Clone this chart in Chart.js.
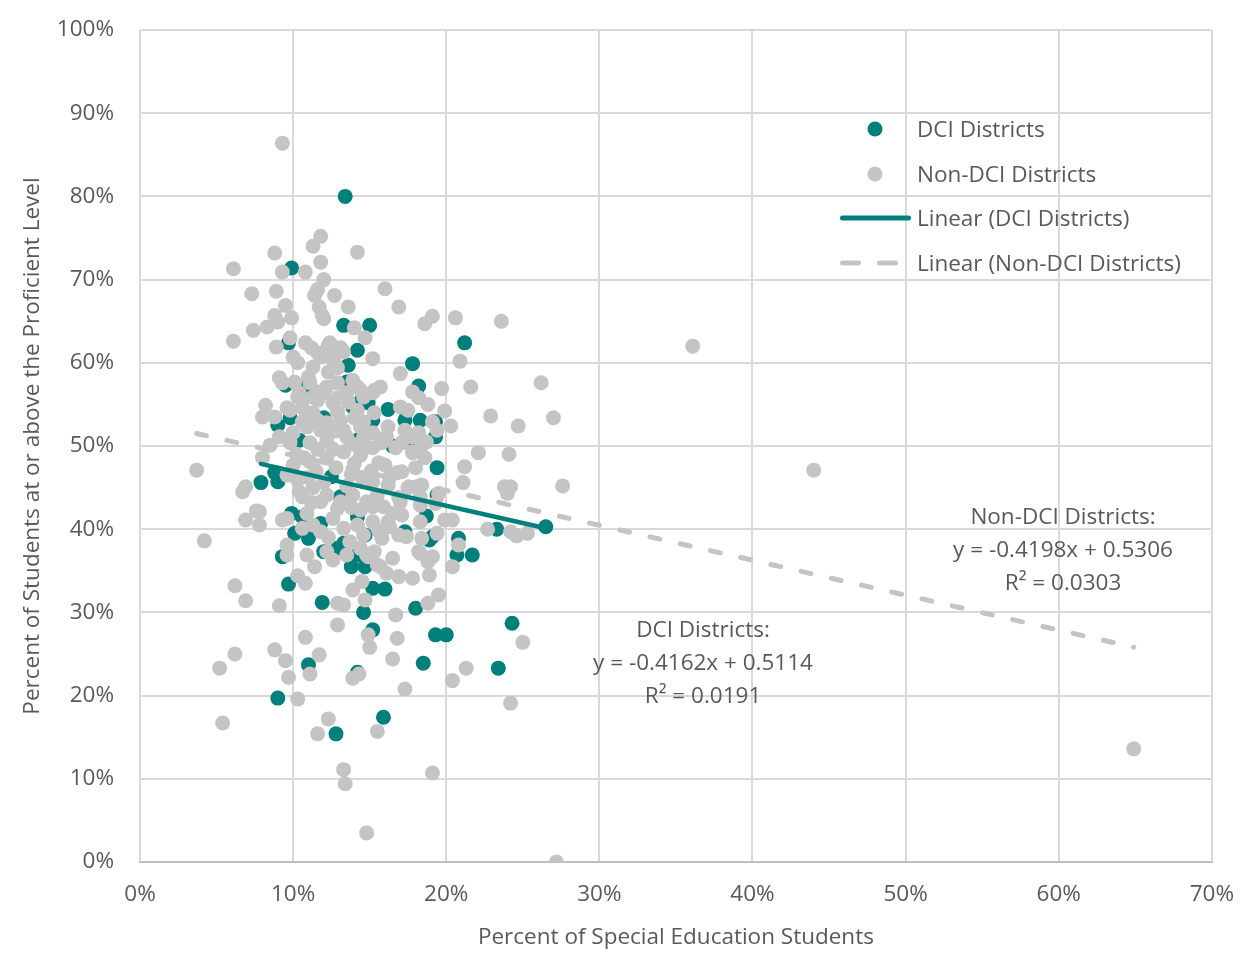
<!DOCTYPE html>
<html>
<head>
<meta charset="utf-8">
<script src="https://cdn.jsdelivr.net/npm/chart.js@4.4.1/dist/chart.umd.min.js"></script>
<style>
html,body{margin:0;padding:0;background:#ffffff;}
#wrap{position:relative;width:1253px;height:962px;overflow:hidden;}
#c{position:absolute;left:0;top:0;}
.t{position:absolute;font-family:'Open Sans','Noto Sans',sans-serif;font-size:22.5px;color:#595959;white-space:nowrap;line-height:1;transform:translateY(-50%);}
.ctr{transform:translate(-50%,-50%);}
.dot{position:absolute;width:15px;height:15px;border-radius:50%;transform:translate(-50%,-50%);}
.bar{position:absolute;height:5px;border-radius:3px;transform:translateY(-50%);}
</style>
</head>
<body>
<div id="wrap">
<canvas id="c" width="1253" height="962"></canvas>
<div class="dot" style="left:875px;top:129px;background:#007F7B"></div>
<div class="t" style="left:917px;top:129px">DCI Districts</div>
<div class="dot" style="left:875px;top:174px;background:#C4C4C4"></div>
<div class="t" style="left:917px;top:174px">Non-DCI Districts</div>
<div class="bar" style="left:840px;top:218px;width:71px;background:#007F7B"></div>
<div class="t" style="left:917px;top:218px">Linear (DCI Districts)</div>
<div class="bar" style="left:840px;top:263px;width:21px;background:#C4C4C4"></div>
<div class="bar" style="left:877px;top:263px;width:21px;background:#C4C4C4"></div>
<div class="t" style="left:917px;top:263px">Linear (Non-DCI Districts)</div>
<div class="t ctr" style="left:1063px;top:516px">Non-DCI Districts:</div>
<div class="t ctr" style="left:1063px;top:549px">y = -0.4198x + 0.5306</div>
<div class="t ctr" style="left:1063px;top:582px">R² = 0.0303</div>
<div class="t ctr" style="left:703px;top:629px">DCI Districts:</div>
<div class="t ctr" style="left:703px;top:662px">y = -0.4162x + 0.5114</div>
<div class="t ctr" style="left:703px;top:695px">R² = 0.0191</div>
</div>
<script>
// Percent of Special Education Students (x, %) and Percent at/above Proficient (y, %)
const dciPoints = [
[13.4,80.0],[9.9,71.4],[13.3,64.5],[15.0,64.5],[9.7,62.4],[14.2,61.5],[13.6,59.7],[10.9,57.2],[9.5,57.3],[13.5,57.7],
[14.4,55.3],[13.9,54.7],[14.9,55.2],[9.8,53.4],[9.0,52.5],[10.4,50.7],[12.0,53.4],[14.2,50.7],[15.2,53.1],[21.2,62.4],
[17.8,59.9],[18.2,57.2],[16.2,54.4],[17.3,53.1],[18.3,53.1],[19.3,51.1],[18.0,50.1],[17.4,54.1],[19.3,52.9],[7.9,45.6],
[9.0,45.7],[12.5,46.3],[13.1,43.9],[9.9,41.9],[10.6,41.5],[11.8,40.7],[10.1,39.5],[11.0,38.9],[9.3,36.7],[12.0,37.3],
[13.3,38.3],[14.2,36.9],[8.8,46.8],[13.8,35.5],[14.7,35.5],[15.2,32.9],[11.9,31.2],[14.6,30.0],[12.9,37.7],[14.2,41.5],
[9.7,33.4],[18.3,49.9],[19.4,47.4],[19.4,44.1],[18.7,41.6],[17.3,39.7],[19.1,39.1],[20.8,38.9],[20.7,36.9],[21.7,36.9],
[14.7,39.3],[16.5,50.0],[18.9,38.7],[23.3,40.0],[26.5,40.3],[16.0,32.8],[18.0,30.5],[24.3,28.7],[19.3,27.3],[20.0,27.3],
[18.5,23.9],[23.4,23.3],[15.9,17.4],[12.8,15.4],[11.0,23.7],[14.2,22.8],[9.0,19.7],[15.2,27.9]
];
const nonDciPoints = [
[3.7,47.1],[4.2,38.6],[5.2,23.3],[5.4,16.7],[6.1,71.3],[6.1,62.6],[6.2,33.2],[6.2,25.0],[6.9,45.1],[6.7,44.5],
[6.9,41.1],[6.9,31.4],[7.3,68.3],[7.4,63.9],[7.6,42.2],[7.8,40.5],[8.0,48.6],[8.3,64.3],[8.2,54.9],[8.8,73.2],
[8.9,68.6],[8.8,25.5],[9.1,30.8],[9.3,86.4],[9.5,24.2],[9.7,22.2],[10.3,19.6],[10.8,27.0],[10.8,33.5],[10.3,34.4],
[7.8,42.1],[8.0,53.5],[8.8,53.5],
[11.8,75.2],[11.3,74.0],[14.2,73.3],[11.8,72.1],[9.3,70.9],[10.8,70.9],[12.0,70.0],[11.6,68.8],[11.4,68.1],[12.7,68.1],
[9.5,66.9],[11.7,66.7],[13.6,66.7],[11.9,65.7],[12.0,65.3],[8.8,65.7],[9.9,65.4],[9.0,64.9],[14.0,64.2],[14.7,63.0],
[9.8,63.0],[8.9,61.9],[10.8,62.4],[11.2,61.8],[11.6,61.2],[12.3,62.1],[13.3,61.3],[15.2,60.5],[10.0,60.7],[10.3,60.0],
[11.3,59.5],[12.5,60.6],[12.7,60.0],[12.3,58.9],[9.1,58.2],[9.3,57.6],[10.1,57.7],[11.0,58.3],[11.1,57.6],[12.9,57.6],
[13.9,57.9],[14.2,57.1],[15.2,56.4],[10.4,56.4],[10.6,55.5],[11.3,55.9],[12.0,56.4],[12.6,55.2],[13.5,56.4],[9.6,54.6],
[10.6,52.9],[11.6,53.1],[12.2,52.8],[12.9,54.1],[13.1,53.1],[14.0,53.4],[14.6,52.9],[11.8,60.7],[12.4,62.4],[13.1,61.8],
[12.9,59.4],[10.3,55.9],[11.6,56.5],[12.2,57.1],[12.9,55.8],[14.4,56.7],[13.6,55.3],[14.2,54.3],[14.6,55.9],[9.8,54.3],
[10.6,54.6],[11.6,55.5],[11.3,54.0],[12.6,52.3],[13.3,51.9],[14.4,52.3],[9.1,51.1],[10.0,51.6],[10.9,52.3],[11.8,51.9],
[8.5,50.1],[9.8,50.4],[11.1,50.4],[12.2,50.7],[13.5,51.1],[14.6,51.1],[14.8,49.9],
[16.0,68.9],[16.9,66.7],[19.1,65.6],[18.6,64.7],[20.6,65.4],[23.6,65.0],[20.9,60.2],[17.0,58.7],[15.7,57.1],[15.3,56.7],
[19.7,56.9],[21.6,57.1],[26.2,57.6],[17.8,56.5],[18.2,55.8],[18.8,55.0],[17.0,54.7],[17.5,54.3],[19.9,54.2],[15.3,54.0],
[22.9,53.6],[19.1,52.9],[20.3,52.4],[24.7,52.4],[27.0,53.4],[16.2,52.3],[17.3,51.9],[19.4,51.9],[18.2,51.6],[15.2,51.6],
[15.8,50.4],[17.1,50.4],[18.4,50.1],
[10.0,47.7],[11.1,48.1],[12.2,48.6],[13.3,49.3],[14.4,48.9],[9.6,46.5],[10.4,44.5],[11.3,45.0],[12.2,44.1],[13.1,43.3],
[13.9,44.1],[14.8,43.3],[9.6,41.3],[10.9,41.9],[11.3,40.5],[11.8,39.7],[10.6,40.1],[12.6,41.3],[13.3,40.1],[14.2,40.5],
[14.6,39.3],[13.7,38.5],[14.4,37.7],[9.6,38.1],[9.6,36.9],[10.9,36.9],[12.2,37.3],[13.5,36.9],[14.8,36.9],[10.3,45.9],
[10.6,43.9],[11.8,43.3],[12.9,42.5],[14.4,42.3],[15.2,42.7],[9.3,41.1],[11.4,35.5],[12.6,36.3],[14.9,36.7],[15.5,35.7],
[14.5,33.7],[13.9,32.7],[14.7,31.5],[12.9,31.1],[13.3,30.9],[15.2,49.8],[16.7,49.8],[17.8,49.3],[18.6,48.6],[16.0,47.7],
[17.1,46.9],[18.0,47.4],[15.2,45.7],[16.3,46.2],[17.5,45.0],[18.4,45.3],[15.5,44.1],[16.9,43.8],[18.3,42.9],[21.2,47.5],
[21.1,45.6],[19.9,41.1],[20.4,41.1],[15.2,40.9],[16.2,40.9],[17.1,41.7],[15.8,38.9],[16.9,39.3],[18.4,38.9],[19.4,39.5],
[20.8,38.1],[18.2,37.3],[19.1,36.7],[15.3,37.3],[16.5,36.5],[22.1,49.2],[24.1,49.0],[23.8,45.1],[24.2,45.1],[24.0,44.3],
[27.6,45.2],[19.5,44.3],[22.7,40.0],[24.2,39.7],[24.6,39.2],[25.3,39.5],[18.3,37.1],[18.8,36.1],[18.9,34.5],[17.8,34.1],
[16.9,34.3],[16.1,34.7],[19.5,32.1],[18.8,31.1],[16.7,29.7],[15.7,35.5],[20.4,35.5],[16.1,51.1],[17.8,51.1],[18.7,50.5],
[17.8,49.2],[16.8,46.8],[16.2,45.3],[18.1,45.1],[18.3,43.9],[17.0,43.3],[15.9,42.7],[16.5,41.9],[19.3,43.1],[16.3,40.3],
[17.4,39.1],[18.3,40.9],
[10.2,49.0],[11.5,47.0],[12.8,47.4],[13.8,46.6],[11.0,46.2],[12.0,45.6],[13.5,45.2],[14.5,46.2],[10.7,48.6],[12.6,49.6],
[13.9,50.2],[11.6,49.6],[15.6,48.0],[15.1,47.0],[14.0,47.9],[12.8,51.8],[11.2,43.2],[13.8,42.6],[15.6,39.8],[12.3,39.0],
[11.7,24.9],[11.1,22.6],[12.3,17.2],[11.6,15.4],[13.3,11.1],[13.4,9.4],[14.8,3.5],[12.9,28.5],[13.9,22.1],[14.3,22.6],
[14.9,27.3],[15.0,25.8],[15.5,15.7],[16.5,24.4],[16.8,26.9],[17.3,20.8],[19.1,10.7],[20.4,21.8],[21.3,23.3],[24.2,19.1],
[25.0,26.4],[27.2,0.0],
[36.1,62.0],[44.0,47.1],[64.9,13.6]
];
// Excel trendline coefficients (fractions), as printed on the chart
const dciTrend = {slope: -0.4162, intercept: 0.5114};
const nonDciTrend = {slope: -0.4198, intercept: 0.5306};
const xTicks = [0,10,20,30,40,50,60,70];
const yTicks = [0,10,20,30,40,50,60,70,80,90,100];

const TEAL = '#007F7B', GRAY = '#C4C4C4', TXT = '#595959', GRID = '#D9D9D9';
const FONT = "'Open Sans', 'Noto Sans', sans-serif";
const FS = 22.5;

function toXY(arr){ return arr.map(p => ({x:p[0], y:p[1]})); }
function trendLine(points, t){
  const xs = points.map(p => p[0]);
  const lo = Math.min(...xs), hi = Math.max(...xs);
  return [lo, hi].map(x => ({x, y: t.slope * x + 100 * t.intercept}));
}

new Chart(document.getElementById('c'), {
  type: 'scatter',
  data: {
    datasets: [
      {label:'DCI Districts', data: toXY(dciPoints), backgroundColor: TEAL, pointRadius: 7.5, pointBorderWidth: 0, pointHoverRadius: 7.5, order: 3},
      {label:'Non-DCI Districts', data: toXY(nonDciPoints), backgroundColor: GRAY, pointRadius: 7.5, pointBorderWidth: 0, pointHoverRadius: 7.5, order: 2},
      {label:'Linear (DCI Districts)', type:'line', data: trendLine(dciPoints, dciTrend), borderColor: TEAL, borderWidth: 4.5, pointRadius: 0, borderCapStyle:'round', fill:false, order: 0},
      {label:'Linear (Non-DCI Districts)', type:'line', data: trendLine(nonDciPoints, nonDciTrend), borderColor: GRAY, borderWidth: 5, borderDash:[10,21], borderCapStyle:'round', pointRadius: 0, fill:false, order: 1}
    ]
  },
  options: {
    responsive: false,
    animation: false,
    events: [],
    layout: {padding: {top: 30, right: 41, left: 0, bottom: 0}},
    plugins: {legend: {display: false}, tooltip: {enabled: false}},
    scales: {
      x: {
        type: 'linear', min: 0, max: 70,
        afterBuildTicks: s => { s.ticks = xTicks.map(v => ({value: v})); },
        afterFit: s => { s.height = 100; },
        ticks: {callback: v => v + '%', color: TXT, font: {family: FONT, size: FS}, padding: 19, maxRotation: 0},
        grid: {color: GRID, lineWidth: 2, drawTicks: false},
        border: {color: '#BFBFBF', width: 2},
        title: {display: true, text: 'Percent of Special Education Students', color: TXT, font: {family: FONT, size: FS}, padding: {top: 0, bottom: 11}}
      },
      y: {
        type: 'linear', min: 0, max: 100,
        afterBuildTicks: s => { s.ticks = yTicks.map(v => ({value: v})); },
        afterFit: s => { s.width = 140; s.paddingTop = 0; s.paddingBottom = 0; },
        ticks: {callback: v => v + '%', color: TXT, font: {family: FONT, size: FS}, padding: 26},
        grid: {color: GRID, lineWidth: 2, drawTicks: false},
        border: {display: false},
        title: {display: true, text: 'Percent of Students at or above the Proficient Level', color: TXT, font: {family: FONT, size: FS}, padding: {top: 19, bottom: 0}}
      }
    }
  }
});
</script>
</body>
</html>
